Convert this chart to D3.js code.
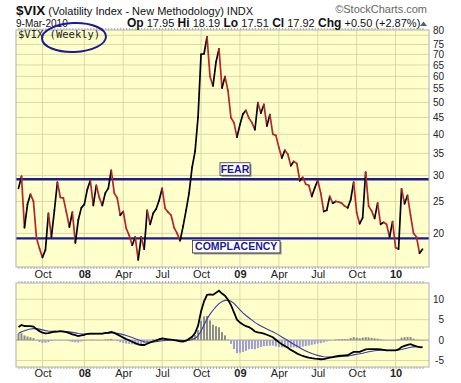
<!DOCTYPE html>
<html lang="en">
<head>
<meta charset="utf-8">
<title>$VIX weekly</title>
<script src="https://d3js.org/d3.v7.min.js"></script>
<style>
  body { margin: 0; background: #fff; }
  svg text { font-family: "Liberation Sans", Arial, sans-serif; }
</style>
</head>
<body>
<script>
// weekly closes, one value per week (Mon 6-Aug-2007 .. Mon 8-Mar-2010)
var vix = [
  27.4, 29.8, 20.8, 24.5, 26.3, 25.0, 19.4, 18.0, 16.9, 17.8,
  23.0, 19.5, 23.5, 28.6, 25.7, 25.6, 23.2, 20.9, 23.2, 18.7,
  22.0, 23.9, 24.5, 27.2, 29.0, 24.3, 28.0, 25.7, 24.3, 26.5,
  27.4, 31.1, 26.5, 25.6, 22.7, 23.3, 20.7, 19.7, 18.4, 19.5,
  16.6, 19.5, 17.9, 23.5, 21.3, 23.0, 23.7, 25.2, 27.4, 23.8,
  23.2, 22.7, 20.8, 20.0, 19.0, 21.0, 23.5, 26.5, 31.7, 35.5,
  45.1, 70.0, 70.3, 79.1, 59.9, 56.1, 66.3, 72.7, 55.3, 59.9,
  54.3, 44.9, 43.4, 39.2, 42.8, 46.1, 47.3, 44.8, 43.4, 41.3,
  49.9, 46.4, 49.3, 42.4, 45.9, 40.0, 39.7, 36.5, 33.9, 35.8,
  34.8, 32.1, 33.1, 32.6, 28.9, 29.6, 28.2, 28.0, 25.9, 27.5,
  29.0, 26.5, 23.3, 23.5, 25.9, 24.7, 25.0, 24.9, 24.7, 24.2,
  23.9, 25.3, 28.6, 23.1, 21.4, 22.3, 30.7, 24.2, 23.4, 22.2,
  24.7, 21.3, 21.6, 21.3, 19.5, 21.7, 18.1, 17.9, 27.3, 24.6,
  26.1, 22.7, 20.0, 19.5, 17.4, 17.9
];

// lower panel: MACD line, signal line, histogram
var macd = [
  3.2, 3.7, 3.45, 3.4, 3.4, 3.3, 2.7, 2.2, 1.8, 1.65,
  1.7, 1.9, 2.05, 2.1, 2.2, 2.1, 1.95, 1.7, 1.4, 1.2,
  1.0, 1.15, 1.3, 1.55, 1.6, 1.6, 1.6, 1.6, 1.6, 1.75,
  1.85, 2.0, 1.75, 1.4, 1.0, 0.6, 0.25, -0.05, -0.4, -0.75,
  -1.05, -1.2, -1.2, -0.9, -0.6, -0.3, -0.1, 0.15, 0.4, 0.3,
  0.2, 0.1, 0.0, -0.15, -0.3, -0.35, -0.15, 0.3, 0.8, 1.7,
  3.5, 7.0, 9.5, 11.1, 11.2, 11.1, 11.6, 12.1, 11.4, 10.9,
  9.9, 8.6, 6.8, 5.0, 4.3, 3.8, 3.4, 3.2, 2.7, 2.1,
  1.9, 1.75, 1.6, 1.3, 1.0, 0.7, 0.1, -0.5, -1.0, -1.45,
  -1.9, -2.4, -2.8, -3.25, -3.6, -3.9, -4.1, -4.3, -4.45, -4.55,
  -4.6, -4.7, -4.65, -4.5, -4.3, -4.2, -4.0, -3.9, -3.8, -3.75,
  -3.7, -3.3, -2.9, -2.9, -2.9, -2.6, -2.3, -2.2, -2.2, -2.2,
  -2.2, -2.3, -2.4, -2.5, -2.5, -2.5, -2.5, -2.3, -1.7, -1.4,
  -1.2, -1.0, -1.3, -1.55, -1.7, -1.8
];
var signal = [
  1.6, 2.02, 2.31, 2.53, 2.70, 2.82, 2.80, 2.68, 2.50, 2.33,
  2.21, 2.14, 2.13, 2.12, 2.14, 2.13, 2.09, 2.02, 1.89, 1.76,
  1.60, 1.51, 1.47, 1.49, 1.51, 1.53, 1.54, 1.55, 1.56, 1.60,
  1.65, 1.72, 1.72, 1.66, 1.53, 1.34, 1.12, 0.89, 0.63, 0.35,
  0.07, -0.18, -0.39, -0.49, -0.51, -0.47, -0.39, -0.28, -0.15, -0.06,
  -0.01, 0.01, 0.01, -0.02, -0.08, -0.13, -0.14, -0.05, 0.12, 0.44,
  1.05, 2.24, 3.69, 5.17, 6.37, 7.32, 8.18, 8.96, 9.45, 9.74,
  9.77, 9.54, 8.99, 8.19, 7.41, 6.69, 6.03, 5.47, 4.91, 4.35,
  3.86, 3.44, 3.07, 2.72, 2.37, 2.04, 1.65, 1.22, 0.78, 0.33,
  -0.11, -0.57, -1.02, -1.46, -1.89, -2.29, -2.65, -2.98, -3.28, -3.53,
  -3.75, -3.94, -4.08, -4.16, -4.19, -4.19, -4.15, -4.10, -4.04, -3.98,
  -3.93, -3.80, -3.62, -3.48, -3.36, -3.21, -3.03, -2.86, -2.73, -2.62,
  -2.54, -2.49, -2.47, -2.48, -2.48, -2.49, -2.49, -2.45, -2.30, -2.12,
  -1.94, -1.75, -1.66, -1.64, -1.65, -1.68
];
var hist = [
  1.6, 1.68, 1.14, 0.87, 0.70, 0.48, -0.10, -0.48, -0.70, -0.68,
  -0.51, -0.24, -0.08, -0.02, 0.06, -0.03, -0.14, -0.32, -0.49, -0.56,
  -0.60, -0.36, -0.17, 0.06, 0.09, 0.07, 0.06, 0.05, 0.04, 0.15,
  0.20, 0.28, 0.03, -0.26, -0.53, -0.74, -0.87, -0.94, -1.03, -1.10,
  -1.12, -1.02, -0.81, -0.41, -0.09, 0.17, 0.29, 0.43, 0.55, 0.36,
  0.21, 0.09, -0.01, -0.13, -0.22, -0.22, -0.01, 0.35, 0.68, 1.26,
  2.45, 4.76, 5.81, 5.93, 4.83, 3.78, 3.42, 3.14, 1.95, 1.16,
  0.13, -0.94, -2.19, -3.19, -3.11, -2.89, -2.63, -2.27, -2.21, -2.25,
  -1.96, -1.69, -1.47, -1.42, -1.37, -1.34, -1.55, -1.72, -1.78, -1.78,
  -1.79, -1.83, -1.78, -1.79, -1.71, -1.61, -1.45, -1.32, -1.17, -1.02,
  -0.85, -0.76, -0.57, -0.34, -0.11, -0.01, 0.15, 0.20, 0.24, 0.23,
  0.23, 0.50, 0.72, 0.58, 0.46, 0.61, 0.73, 0.66, 0.53, 0.42,
  0.34, 0.19, 0.07, -0.02, -0.02, -0.01, -0.01, 0.15, 0.60, 0.72,
  0.74, 0.75, 0.36, 0.09, -0.05, -0.12
];

var priceTicks = [20, 25, 30, 35, 40, 45, 50, 55, 60, 65, 70, 75, 80];
var macdTicks = [-5, 0, 5, 10];
var tickMonths = ["2007-10", "2008-01", "2008-04", "2008-07", "2008-10",
                  "2009-01", "2009-04", "2009-07", "2009-10", "2010-01"];
var tickLabels = ["Oct", "08", "Apr", "Jul", "Oct", "09", "Apr", "Jul", "Oct", "10"];
var levels = [29.2, 19.3];
var levelNames = ["FEAR", "COMPLACENCY"];

var w = 461, h = 383;
var left = 16, right = 429;
var main = {top: 30, bottom: 267};
var lower = {top: 283, bottom: 367};
var navy = "#1a1a96";
var grid = "#dcd8a4";

var svg = d3.select("body").append("svg")
    .attr("width", w)
    .attr("height", h);

var weeks = d3.timeMonday.range(new Date(2007, 7, 6), new Date(2010, 2, 9)).slice(0, vix.length);

var x = d3.scaleTime()
    .domain([weeks[0], weeks[weeks.length - 1]])
    .range([18.5, 422.5]);
var y = d3.scaleLog().domain([15.8, 83]).range([main.bottom, main.top]);
var y2 = d3.scaleLinear().domain([-6.6, 14]).range([lower.bottom, lower.top]);

var parseMonth = d3.timeParse("%Y-%m");
// gridlines sit on the first weekly bar of each quarter
var tickDates = tickMonths.map(function(m) { return d3.timeMonday.ceil(parseMonth(m)); });

// panels
[main, lower].forEach(function(p) {
  svg.append("rect")
     .attr("x", left).attr("y", p.top)
     .attr("width", right - left).attr("height", p.bottom - p.top)
     .attr("fill", "#ffffcc");
  svg.append("g").selectAll("line")
     .data(tickDates).join("line")
     .attr("x1", function(d) { return x(d); })
     .attr("x2", function(d) { return x(d); })
     .attr("y1", p.top).attr("y2", p.bottom)
     .attr("stroke", grid).attr("stroke-width", 1);
});

svg.append("g").selectAll("line")
   .data(priceTicks).join("line")
   .attr("x1", left).attr("x2", right)
   .attr("y1", function(d) { return y(d); })
   .attr("y2", function(d) { return y(d); })
   .attr("stroke", grid);

svg.append("g").selectAll("line")
   .data(macdTicks).join("line")
   .attr("x1", left).attr("x2", right)
   .attr("y1", function(d) { return y2(d); })
   .attr("y2", function(d) { return y2(d); })
   .attr("stroke", function(d) { return d === 0 ? "#9a9a9a" : grid; });

// weekly tick marks along panel edges
function edgeTicks(yPos, size) {
  var ax = d3.axisBottom(x).tickValues(weeks).tickSize(size).tickFormat("");
  var g = svg.append("g")
     .attr("transform", "translate(0," + yPos + ")")
     .call(ax);
  g.select(".domain").remove();
  g.selectAll("line").attr("stroke", "#a8a8a8");
}
edgeTicks(main.bottom, 2);
edgeTicks(main.top, -2);
edgeTicks(lower.top, -2);
edgeTicks(lower.bottom, 2);

// clip
svg.append("clipPath").attr("id", "clipMain")
   .append("rect").attr("x", left).attr("y", main.top)
   .attr("width", right - left).attr("height", main.bottom - main.top);
svg.append("clipPath").attr("id", "clipLow")
   .append("rect").attr("x", left).attr("y", lower.top)
   .attr("width", right - left).attr("height", lower.bottom - lower.top);

// fear / complacency levels
svg.append("g").selectAll("line")
   .data(levels).join("line")
   .attr("x1", left).attr("x2", right)
   .attr("y1", function(d) { return y(d); })
   .attr("y2", function(d) { return y(d); })
   .attr("stroke", navy).attr("stroke-width", 2.3);

// price line: black when up, red when down
var pts = vix.map(function(v, i) { return {d: weeks[i], v: v}; });
svg.append("g").attr("clip-path", "url(#clipMain)")
   .selectAll("line")
   .data(d3.pairs(pts)).join("line")
   .attr("x1", function(p) { return x(p[0].d); })
   .attr("y1", function(p) { return y(p[0].v); })
   .attr("x2", function(p) { return x(p[1].d); })
   .attr("y2", function(p) { return y(p[1].v); })
   .attr("stroke", function(p) { return p[1].v >= p[0].v ? "#000" : "#b3262b"; })
   .attr("stroke-width", 1.7)
   .attr("stroke-linecap", "round");

// level labels
var boxes = [
  {x: 220, w: 30, dy: -16.5},
  {x: 192.5, w: 87.5, dy: 2}
];
levels.forEach(function(lv, i) {
  var b = boxes[i], top = y(lv) + b.dy;
  svg.append("rect").attr("x", b.x + 1.5).attr("y", top + 1.5)
     .attr("width", b.w).attr("height", 12.5).attr("fill", "#8a8a8a");
  svg.append("rect").attr("x", b.x).attr("y", top)
     .attr("width", b.w).attr("height", 12.5)
     .attr("fill", "#fff").attr("stroke", "#333").attr("stroke-width", 0.8);
  svg.append("text").attr("x", b.x + b.w / 2).attr("y", top + 10)
     .attr("text-anchor", "middle")
     .attr("font-size", "10.5px").attr("font-weight", "bold")
     .attr("fill", navy)
     .text(levelNames[i]);
});

// lower panel
svg.append("g").attr("clip-path", "url(#clipLow)")
   .selectAll("rect")
   .data(hist).join("rect")
   .attr("x", function(d, i) { return x(weeks[i]) - 1; })
   .attr("width", 2)
   .attr("y", function(d) { return Math.min(y2(d), y2(0)); })
   .attr("height", function(d) { return Math.abs(y2(d) - y2(0)); })
   .attr("fill", function(d) { return d >= 0 ? "#8c8c8c" : "#9c9cd6"; });

var line2 = d3.line()
    .x(function(d, i) { return x(weeks[i]); })
    .y(function(d) { return y2(d); });

svg.append("path").datum(signal)
   .attr("clip-path", "url(#clipLow)")
   .attr("d", line2)
   .attr("fill", "none").attr("stroke", "#3a3aa8").attr("stroke-width", 1.1);
svg.append("path").datum(macd)
   .attr("clip-path", "url(#clipLow)")
   .attr("d", line2)
   .attr("fill", "none").attr("stroke", "#000").attr("stroke-width", 1.8);

// borders
[main, lower].forEach(function(p) {
  svg.append("rect")
     .attr("x", left).attr("y", p.top)
     .attr("width", right - left).attr("height", p.bottom - p.top)
     .attr("fill", "none").attr("stroke", "#b0b0b0").attr("stroke-width", 1);
});

// right axes
function rightAxis(scale, vals) {
  var g = svg.append("g")
     .attr("transform", "translate(444,0)")
     .call(d3.axisRight(scale).tickValues(vals).tickSize(0).tickPadding(0)
             .tickFormat(function(d) { return d; }));
  g.select(".domain").remove();
  g.selectAll("text")
   .attr("text-anchor", "end")
   .attr("font-size", "10px")
   .attr("font-family", "Liberation Sans, Arial, sans-serif")
   .attr("fill", "#222");
  return g;
}
var priceAxis = rightAxis(y, priceTicks);
rightAxis(y2, macdTicks);
// the top two labels sit very close on the log scale; lift the top one a little
priceAxis.selectAll(".tick text")
   .filter(function(d) { return d === 80; })
   .attr("dy", "-0.14em");

// date axes
function dateAxis(yPos) {
  var g = svg.append("g")
     .attr("transform", "translate(0," + yPos + ")")
     .call(d3.axisBottom(x).tickValues(tickDates).tickSize(0).tickPadding(0)
             .tickFormat(function(d, i) { return tickLabels[i]; }));
  g.select(".domain").remove();
  g.selectAll("text")
   .attr("font-size", "11px")
   .attr("font-family", "Liberation Sans, Arial, sans-serif")
   .attr("fill", "#222")
   .attr("font-weight", function(d, i) { return /^\d+$/.test(tickLabels[i]) ? "bold" : "normal"; });
}
dateAxis(270);
dateAxis(369);

// header
var t1 = svg.append("text").attr("x", 16).attr("y", 15).attr("fill", "#111");
t1.append("tspan").attr("font-size", "13.5px").attr("font-weight", "bold").text("$VIX");
t1.append("tspan").attr("font-size", "11px").text(" (Volatility Index - New Methodology) INDX");

svg.append("text").attr("x", 427).attr("y", 13)
   .attr("text-anchor", "end").attr("font-size", "11px").attr("fill", "#666")
   .text("\u00a9StockCharts.com");

svg.append("text").attr("x", 16).attr("y", 27)
   .attr("font-size", "10px").attr("fill", "#111")
   .text("9-Mar-2010");

var quote = [["Op", "17.95"], ["Hi", "18.19"], ["Lo", "17.51"], ["Cl", "17.92"], ["Chg", "+0.50 (+2.87%)"]];
var t2 = svg.append("text").attr("x", 127).attr("y", 27).attr("fill", "#111");
quote.forEach(function(q, i) {
  t2.append("tspan").attr("font-size", "12px").attr("font-weight", "bold").text((i ? " " : "") + q[0]);
  t2.append("tspan").attr("font-size", "11px").text(" " + q[1]);
});
svg.append("path")
   .attr("d", "M420,26 L423.5,21.5 L427,26 Z")
   .attr("fill", "#4d6b4d");

svg.append("text").attr("x", 18).attr("y", 38)
   .attr("font-size", "10.5px").attr("fill", "#222")
   .attr("style", "font-family:'DejaVu Sans Mono', monospace")
   .text("$VIX (Weekly)");

svg.append("ellipse")
   .attr("cx", 74).attr("cy", 37.5).attr("rx", 32).attr("ry", 14.5)
   .attr("transform", "rotate(-2,74,37.5)")
   .attr("fill", "none").attr("stroke", navy).attr("stroke-width", 2);
</script>
</body>
</html>
